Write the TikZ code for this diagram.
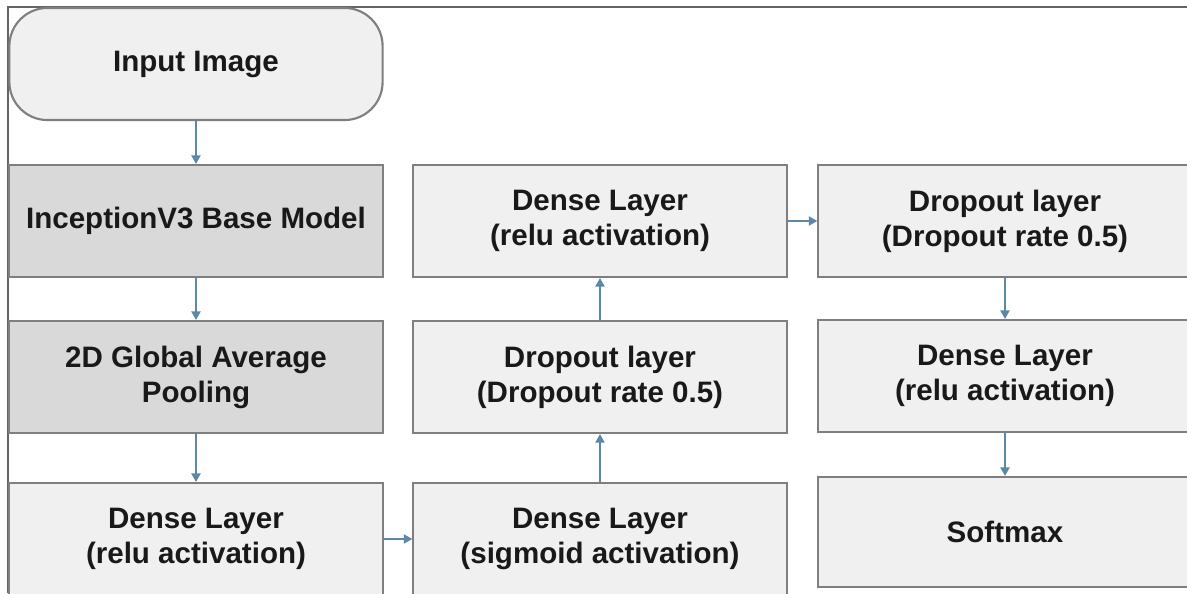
\documentclass[tikz,border=0pt]{standalone}
\usepackage{fontspec}
\setmainfont{Liberation Sans}
\usepackage{xcolor}
\usepackage{tikz}
\usetikzlibrary{positioning,arrows.meta}

\definecolor{boxgray}{HTML}{F0F0F0}
\definecolor{basegray}{HTML}{D9D9D9}
\definecolor{edgegray}{HTML}{7F7F7F}
\definecolor{arrowblue}{HTML}{5B88A8}

\begin{document}
\begin{tikzpicture}[x=0.01cm, y=-0.01cm,
    layer/.style={draw=edgegray, line width=0.6pt, fill=boxgray, minimum width=3.73cm,
                  minimum height=1.12cm, align=center, text=black!90,
                  font=\bfseries\fontsize{8.4}{10}\selectfont},
    base/.style={layer, fill=basegray},
    inbox/.style={layer, rounded corners=0.38cm},
    flow/.style={arrowblue, line width=0.4pt, -{Triangle[length=2.4pt,width=2.6pt]}}]
  \useasboundingbox (0,0) rectangle (1187,593);
  \clip (0,0) rectangle (1187,593);
  % outer frame
  \draw[edgegray!80!black, line width=0.6pt] (1187,7) -- (8,7) -- (8,593);
  % left column
  \node[inbox] (inp) at (196,64) {Input Image};
  \node[base] (inc) at (196,221) {InceptionV3 Base Model};
  \node[base] (gap) at (196,377) {2D Global Average\\Pooling};
  \node[layer] (d1) at (196,539) {Dense Layer\\(relu activation)};
  % middle column
  \node[layer] (d2) at (600,539) {Dense Layer\\(sigmoid activation)};
  \node[layer] (drop1) at (600,377) {Dropout layer\\(Dropout rate 0.5)};
  \node[layer] (d3) at (600,221) {Dense Layer\\(relu activation)};
  % right column
  \node[layer] (drop2) at (1005,221) {Dropout layer\\(Dropout rate 0.5)};
  \node[layer] (d4) at (1005,376) {Dense Layer\\(relu activation)};
  \node[layer, minimum height=1.10cm] (soft) at (1005,532) {Softmax};
  % arrows
  \draw[flow] (inp) -- (inc);
  \draw[flow] (inc) -- (gap);
  \draw[flow] (gap) -- (d1);
  \draw[flow] (d1) -- (d2);
  \draw[flow] (d2) -- (drop1);
  \draw[flow] (drop1) -- (d3);
  \draw[flow] (d3) -- (drop2);
  \draw[flow] (drop2) -- (d4);
  \draw[flow] (d4) -- (soft);
\end{tikzpicture}
\end{document}
